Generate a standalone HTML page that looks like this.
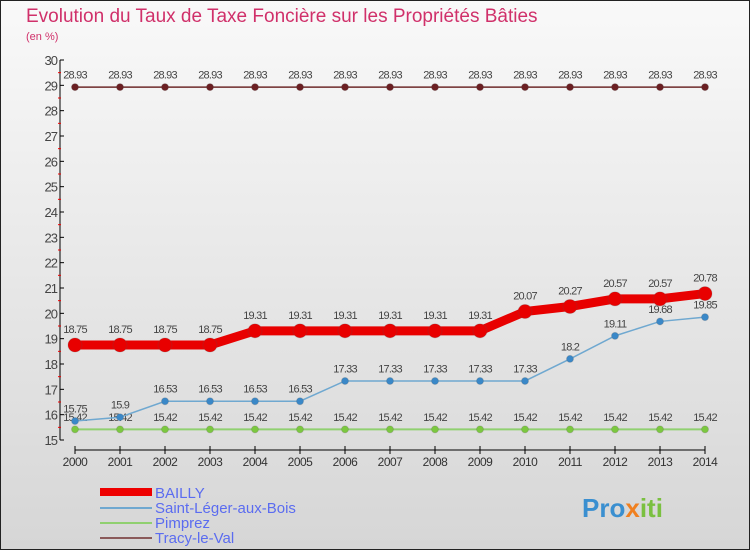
<!DOCTYPE html>
<html><head><meta charset="utf-8"><style>
body{margin:0;width:750px;height:550px;overflow:hidden}
svg{display:block;font-family:"Liberation Sans",sans-serif}
</style></head><body>
<svg id="c" width="750" height="550">
<defs><linearGradient id="bg" x1="0" y1="0" x2="0" y2="1"><stop offset="0" stop-color="#f9f9f9"/><stop offset="1" stop-color="#d6d6d6"/></linearGradient></defs>
<rect x="0.5" y="0.5" width="749" height="549" fill="url(#bg)" stroke="#222"/>
<text x="26" y="22" font-size="19" fill="#d0306a">Evolution du Taux de Taxe Foncière sur les Propriétés Bâties</text>
<text x="26" y="40" font-size="11" fill="#d0306a">(en %)</text>
<g id="plot"></g>
<g>
<rect x="100" y="488" width="52" height="8" fill="#e00"/>
<text x="155" y="498" font-size="15" fill="#5b6cf0">BAILLY</text>
<line x1="100" y1="508" x2="152" y2="508" stroke="#6fa8d0" stroke-width="2"/>
<text x="155" y="513" font-size="15" fill="#5b6cf0">Saint-Léger-aux-Bois</text>
<line x1="100" y1="523" x2="152" y2="523" stroke="#90d070" stroke-width="2"/>
<text x="155" y="528" font-size="15" fill="#5b6cf0">Pimprez</text>
<line x1="100" y1="538" x2="152" y2="538" stroke="#8a5a5a" stroke-width="2"/>
<text x="155" y="543" font-size="15" fill="#5b6cf0">Tracy-le-Val</text>
</g>
<text x="582" y="517" font-size="26" font-weight="bold" fill="#3a8fd0">Pro<tspan fill="#f08020">x</tspan><tspan fill="#7ac040">iti</tspan></text>
</svg>
<script>
const years=[2000,2001,2002,2003,2004,2005,2006,2007,2008,2009,2010,2011,2012,2013,2014];
const bailly=[18.75,18.75,18.75,18.75,19.31,19.31,19.31,19.31,19.31,19.31,20.07,20.27,20.57,20.57,20.78];
const saintLeger=[15.75,15.9,16.53,16.53,16.53,16.53,17.33,17.33,17.33,17.33,17.33,18.2,19.11,19.68,19.85];
const pimprez=[15.42,15.42,15.42,15.42,15.42,15.42,15.42,15.42,15.42,15.42,15.42,15.42,15.42,15.42,15.42];
const tracy=[28.93,28.93,28.93,28.93,28.93,28.93,28.93,28.93,28.93,28.93,28.93,28.93,28.93,28.93,28.93];
const yTicks=[15,16,17,18,19,20,21,22,23,24,25,26,27,28,29,30];
const NS="http://www.w3.org/2000/svg";
const g=document.getElementById('plot');
const X=i=>75+i*45;
const Y=v=>440-(v-15)*(380/15);
function mk(t,a,p){const e=document.createElementNS(NS,t);for(const k in a)e.setAttribute(k,a[k]);(p||g).appendChild(e);return e;}
let e=mk('line',{x1:60,y1:Y(30),x2:60,y2:Y(15),stroke:'#000'});


e=mk('line',{x1:75,y1:450,x2:705,y2:450,stroke:'#000'});


yTicks.forEach(v=>{
 mk('line',{x1:60,y1:Y(v),x2:64,y2:Y(v),stroke:'#000'});
 if(v<30)mk('line',{x1:58,y1:Y(v+0.5),x2:61,y2:Y(v+0.5),stroke:'#e00'});
 const t=mk('text',{x:57,y:Y(v)+5,'text-anchor':'end','font-size':13,fill:'#444','letter-spacing':'-1'});
 t.textContent=v;
 
 
});
years.forEach((y,i)=>{
 mk('line',{x1:X(i),y1:446,x2:X(i),y2:454,stroke:'#000'});
 const t=mk('text',{x:X(i),y:466,'text-anchor':'middle','font-size':12,fill:'#333','letter-spacing':'-0.5'});
 t.textContent=y;
 
 
});
function series(vals,name,col,w,r,dot){
 const sg=mk('g',{});
 
 
 const p=mk('polyline',{points:vals.map((v,i)=>X(i)+','+Y(v)).join(' '),fill:'none',stroke:col,'stroke-width':w},sg);
 
 
 vals.forEach((v,i)=>{
  const c=mk('circle',{cx:X(i),cy:Y(v),r:r,fill:dot,stroke:'#5553','stroke-width':1},sg);
  
  
  const t=mk('text',{x:X(i),y:Y(v)-r-5,'text-anchor':'middle','font-size':11,fill:'#444','letter-spacing':'-0.8'},sg);
  t.textContent=v;
  
  
 });
}
series(tracy,'tracy','#6e2a2a',1.5,3.5,'#6b1f22');
series(pimprez,'pimprez','#90d070',2,3.5,'#7cc840');
series(saintLeger,'saint-leger','#6fa8d0',1.5,3.5,'#3a88c8');
series(bailly,'bailly','#e80000',9,7,'#e80000');
</script>
</body></html>
